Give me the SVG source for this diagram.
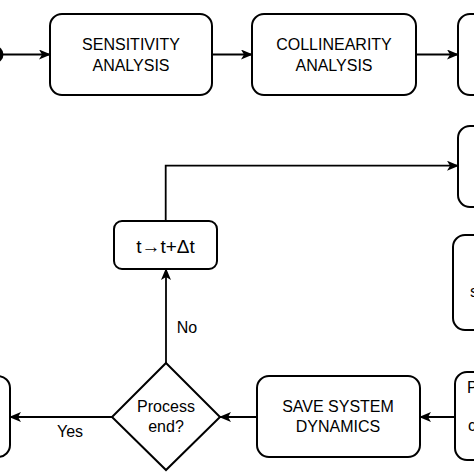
<svg xmlns="http://www.w3.org/2000/svg" width="474" height="474" viewBox="0 0 474 474">
<defs>
<marker id="arr" viewBox="0 0 12 10" refX="11" refY="5" markerWidth="12" markerHeight="10" markerUnits="userSpaceOnUse" orient="auto">
<path d="M0,0 L12,5 L0,10 L3,5 Z" fill="#000"/>
</marker>
<style>
.box{fill:#fff;stroke:#000;stroke-width:2}
.t{font-family:"Liberation Sans",Arial,sans-serif;font-size:16px;fill:#000;text-anchor:middle}
.l{fill:none;stroke:#000;stroke-width:1.8}
</style>
</defs>
<rect width="474" height="474" fill="#fff"/>
<g id="start"><ellipse cx="-5" cy="54.5" rx="8.5" ry="8.5" fill="#000"/></g>
<g id="sensitivity"><rect class="box" x="50" y="14" width="162" height="81" rx="12"/><text class="t" x="131" y="50">SENSITIVITY</text><text class="t" x="131" y="71">ANALYSIS</text></g>
<g id="collinearity"><rect class="box" x="252" y="14" width="164" height="81" rx="12"/><text class="t" x="334" y="50">COLLINEARITY</text><text class="t" x="334" y="71">ANALYSIS</text></g>
<g id="box3"><rect class="box" x="458" y="14" width="60" height="81" rx="12"/></g>
<g id="box4"><rect class="box" x="458" y="126" width="60" height="81" rx="12"/></g>
<g id="box5"><rect class="box" x="453" y="235" width="60" height="95" rx="12"/><text class="t" x="470" y="297" style="text-anchor:start">s</text></g>
<g id="box6"><rect class="box" x="455" y="372" width="60" height="88" rx="12"/><text class="t" x="467" y="393" style="text-anchor:start">P</text><text class="t" x="468" y="431" style="text-anchor:start">c</text></g>
<g id="save"><rect class="box" x="257" y="376" width="163" height="81" rx="12"/><text class="t" x="338" y="412">SAVE SYSTEM</text><text class="t" x="338" y="432">DYNAMICS</text></g>
<g id="decision"><path class="box" d="M166,363 L220,417 L166,470 L112,417 Z"/><text class="t" x="166" y="412">Process</text><text class="t" x="166" y="432">end?</text></g>
<g id="end"><rect class="box" x="-50" y="376" width="60" height="81" rx="12"/></g>
<g id="tstep"><rect class="box" x="114" y="221" width="103" height="48" rx="8"/><text class="t" x="165.5" y="253" style="font-size:19px">t→t+Δt</text></g>
<g id="connectors">
<path class="l" d="M3,54.5 H50" marker-end="url(#arr)"/>
<path class="l" d="M212,54.5 H252" marker-end="url(#arr)"/>
<path class="l" d="M416,54.5 H458" marker-end="url(#arr)"/>
<path class="l" d="M165.7,221 V165.7 H458" marker-end="url(#arr)"/>
<path class="l" d="M455,417 H420" marker-end="url(#arr)"/>
<path class="l" d="M257,417 H220" marker-end="url(#arr)"/>
<path class="l" d="M112,417 H10" marker-end="url(#arr)"/>
<path class="l" d="M166,363 V269" marker-end="url(#arr)"/>
<text class="t" x="70" y="437">Yes</text>
<text class="t" x="187" y="333">No</text>
</g>
</svg>
